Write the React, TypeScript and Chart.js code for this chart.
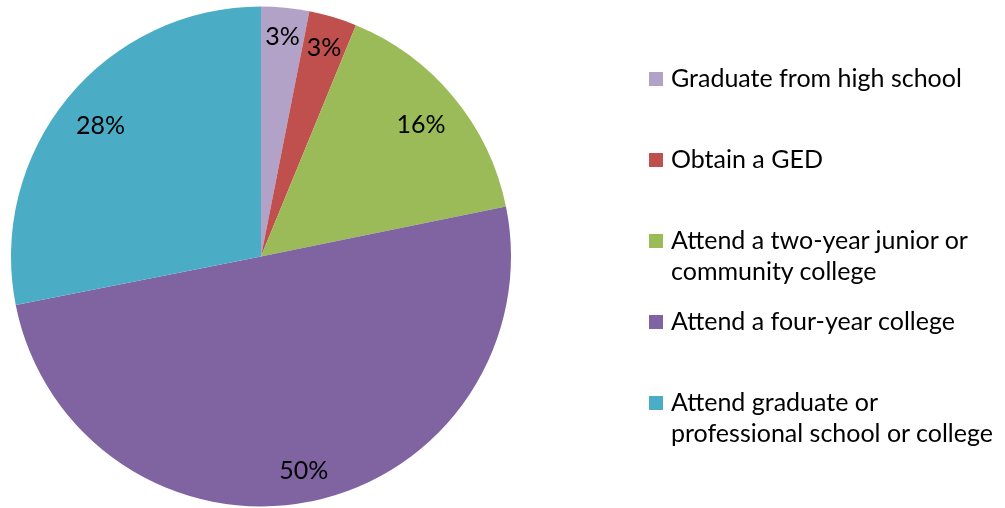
import React, { useEffect, useRef } from "react";
import { Chart, registerables } from "chart.js";

Chart.register(...registerables);

const categories: string[][] = [
  ["Graduate from high school"],
  ["Obtain a GED"],
  ["Attend a two-year junior or", "community college"],
  ["Attend a four-year college"],
  ["Attend graduate or", "professional school or college"],
];
const values: number[] = [3.1, 3.1, 15.6, 50.1, 28.1];
const colors: string[] = ["#B3A2C7", "#C0504D", "#9BBB59", "#8064A2", "#4BACC6"];

const FONT = "Lato, 'Open Sans', sans-serif";
const FONT_SIZE = 25;

// Places each label inside the slice end, so that the outer corner of its text box
// sits on a circle slightly inside the pie edge.
const pctLabels = {
  id: "pctLabels",
  afterDatasetsDraw(chart: any) {
    const ctx = chart.ctx;
    const meta = chart.getDatasetMeta(0);
    const data = chart.data.datasets[0].data as number[];
    const total = data.reduce((a, b) => a + b, 0);
    ctx.save();
    ctx.font = `${FONT_SIZE}px ${FONT}`;
    ctx.fillStyle = "#000";
    ctx.textAlign = "center";
    ctx.textBaseline = "middle";
    meta.data.forEach((arc: any, i: number) => {
      const p = arc.getProps(["x", "y", "startAngle", "endAngle", "outerRadius"], true);
      const mid = (p.startAngle + p.endAngle) / 2;
      const ux = Math.cos(mid);
      const uy = Math.sin(mid);
      const text = Math.round((data[i] / total) * 100) + "%";
      const w = ctx.measureText(text).width;
      const h = FONT_SIZE * 0.72;
      const sx = Math.sign(ux) * w / 2;
      const sy = Math.sign(uy) * h / 2;
      const Rt = p.outerRadius * 0.93;
      const us = ux * sx + uy * sy;
      const r = -us + Math.sqrt(us * us - (sx * sx + sy * sy) + Rt * Rt);
      ctx.fillText(text, p.x + ux * r, p.y + uy * r + 1);
    });
    ctx.restore();
  },
};

export default function App() {
  const ref = useRef<HTMLCanvasElement>(null);
  useEffect(() => {
    if (!ref.current) return;
    const chart = new Chart(ref.current, {
      type: "pie",
      data: {
        labels: categories.map((c) => c.join(" ")),
        datasets: [
          {
            data: values,
            backgroundColor: colors,
            borderWidth: 0,
          },
        ],
      },
      options: {
        animation: false,
        responsive: false,
        maintainAspectRatio: false,
        layout: { padding: { left: 11, right: 494, top: 6.5, bottom: 1.5 } },
        plugins: {
          legend: { display: false },
          tooltip: { enabled: false },
        },
      },
      plugins: [pctLabels],
    });
    return () => chart.destroy();
  }, []);

  return (
    <div style={{ position: "fixed", left: 0, top: 0, width: 1005, height: 508, background: "#fff", overflow: "hidden" }}>
      <canvas ref={ref} width={1005} height={508} style={{ position: "absolute", left: 0, top: 0 }} />
      <div style={{ position: "absolute", left: 649, top: 62, fontFamily: FONT, fontSize: FONT_SIZE, lineHeight: "31px", color: "#000" }}>
        {categories.map((lines, i) => (
          <div key={i} style={{ position: "relative", height: 81, whiteSpace: "nowrap" }}>
            <div style={{ position: "absolute", left: 0, top: 10, width: 14, height: 14, background: colors[i] }} />
            <div style={{ position: "absolute", left: 22, top: 0 }}>
              {lines.map((l, j) => (
                <div key={j}>{l}</div>
              ))}
            </div>
          </div>
        ))}
      </div>
    </div>
  );
}
